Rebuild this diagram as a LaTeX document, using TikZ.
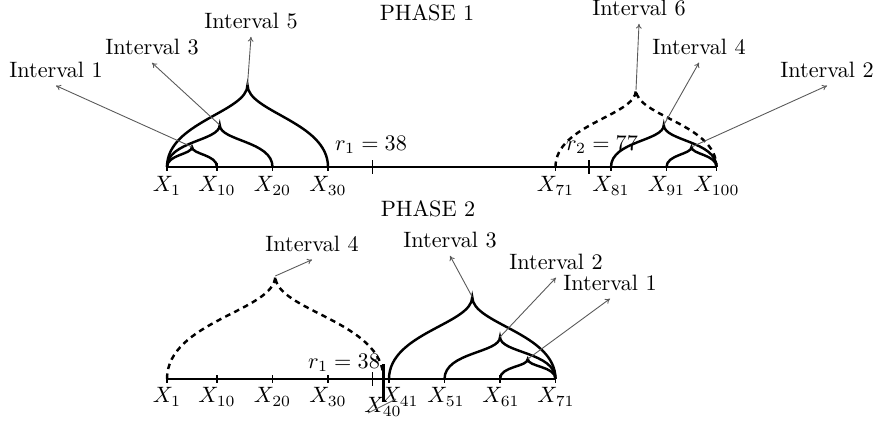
\documentclass[tikz,border=0pt]{standalone}
\usetikzlibrary{arrows.meta}
\newcommand{\myogee}[8]{% style, x0, x1, yaxis, yapex, out, in, apexname
  \pgfmathsetmacro\xm{(#2+#3)/2}
  \coordinate (#8) at (\xm,#5);
  \draw[#1] (#2,#4) .. controls (#2,#4-#6) and (\xm,#5+#7) .. (#8)
            .. controls (\xm,#5+#7) and (#3,#4-#6) .. (#3,#4);}
\begin{document}
\begin{tikzpicture}[x=0.45pt,y=-0.45pt,
  arcline/.style={line width=1.1pt},
  darcline/.style={line width=1.1pt, dash pattern=on 2.5pt off 2pt},
  pointer/.style={-{To[length=2.2pt,width=2.6pt]}, black!65, line width=0.4pt},
  axisline/.style={line width=0.5pt},
  smalltick/.style={line width=0.5pt},
  rtick/.style={line width=0.8pt},
  lab/.style={inner sep=3.33pt},
]
\useasboundingbox (0,0) rectangle (877,423);

% ---------------- PHASE 1 ----------------
\node (ph1) at (427,13) {PHASE 1};
\draw[axisline] (167,167) -- (716.5,167);
\foreach \xx in {167,217,272.5,328,555.5,611,666.5,716.5}
  \draw[smalltick] (\xx,163) -- (\xx,171);
\draw[rtick] (372.4,160) -- (372.4,174);
\draw[rtick] (588.8,160) -- (588.8,174);

\node (p1x1)   at (167,186)   {$X_1$};
\node (p1x10)  at (217,186)   {$X_{10}$};
\node (p1x20)  at (272.5,186) {$X_{20}$};
\node (p1x30)  at (328,186)   {$X_{30}$};
\node (p1x71)  at (555.5,186) {$X_{71}$};
\node (p1x81)  at (611,186)   {$X_{81}$};
\node (p1x91)  at (666.5,186) {$X_{91}$};
\node (p1x100) at (716.5,186) {$X_{100}$};
\node (p1r1) at (371,145) {$r_1 = 38$};
\node (p1r2) at (602,145) {$r_2 = 77$};

\myogee{arcline}{167}{217}{167}{147}{12.5}{7.5}{p1a1}
\myogee{arcline}{167}{272.5}{167}{125}{26}{16}{p1a3}
\myogee{arcline}{167}{328}{167}{85}{45}{27}{p1a5}
\myogee{darcline}{555.5}{716.5}{167}{90}{43}{26}{p1a6}
\myogee{arcline}{611}{716.5}{167}{125}{26}{16}{p1a4}
\myogee{arcline}{666.5}{716.5}{167}{147}{12.5}{7.5}{p1a2}

\node (p1l1) at (56,70)  {Interval 1};
\node (p1l3) at (152,47) {Interval 3};
\node (p1l5) at (251,21) {Interval 5};
\node (p1l6) at (639,8)  {Interval 6};
\node (p1l4) at (699,47) {Interval 4};
\node (p1l2) at (827,70) {Interval 2};
\draw[pointer] (p1a1) -- (p1l1.south);
\draw[pointer] (p1a3) -- (p1l3.south);
\draw[pointer] (p1a5) -- (p1l5.south);
\draw[pointer] (p1a6) -- (p1l6.south);
\draw[pointer] (p1a4) -- (p1l4.south);
\draw[pointer] (p1a2) -- (p1l2.south);

% ---------------- PHASE 2 ----------------
\node (ph2) at (428,209) {PHASE 2};
\draw[axisline] (167,379) -- (555.5,379);
\foreach \xx in {167,217,272.5,328,389,444.5,500,555.5}
  \draw[smalltick] (\xx,375) -- (\xx,383);
\draw[rtick] (372.4,372) -- (372.4,386);

\myogee{darcline}{167}{383.5}{379}{276}{58}{35}{p2a4}
\myogee{arcline}{389}{555.5}{379}{297}{46}{27}{p2a3}
\myogee{arcline}{444.5}{555.5}{379}{337}{27}{16}{p2a2}
\myogee{arcline}{500}{555.5}{379}{359}{13}{8}{p2a1}
\draw[line width=1.1pt] (383.5,364) -- (383.5,402);

\node (p2x1)  at (167,397)   {$X_1$};
\node (p2x10) at (217,397)   {$X_{10}$};
\node (p2x20) at (272.5,397) {$X_{20}$};
\node (p2x30) at (328,397)   {$X_{30}$};
\node (p2x41) at (400,397)   {$X_{41}$};
\node (p2x51) at (446,397)   {$X_{51}$};
\node (p2x61) at (501,397)   {$X_{61}$};
\node (p2x71) at (556,397)   {$X_{71}$};
\node (p2x40) at (383,407)   {$X_{40}$};
\coordinate (s1) at (368,413);
\coordinate (s2) at (396,399);
\draw[black!60, line width=0.4pt] (s1) -- (s2);
\node (p2r1) at (344,363) {$r_1 = 38$};

\node (p2l4) at (312,244) {Interval 4};
\node (p2l3) at (450,240) {Interval 3};
\node (p2l2) at (556,262) {Interval 2};
\node (p2l1) at (610,283) {Interval 1};
\draw[pointer] (p2a4) -- (p2l4.south);
\draw[pointer] (p2a3) -- (p2l3.south);
\draw[pointer] (p2a2) -- (p2l2.south);
\draw[pointer] (p2a1) -- (p2l1.south);
\end{tikzpicture}
\end{document}
